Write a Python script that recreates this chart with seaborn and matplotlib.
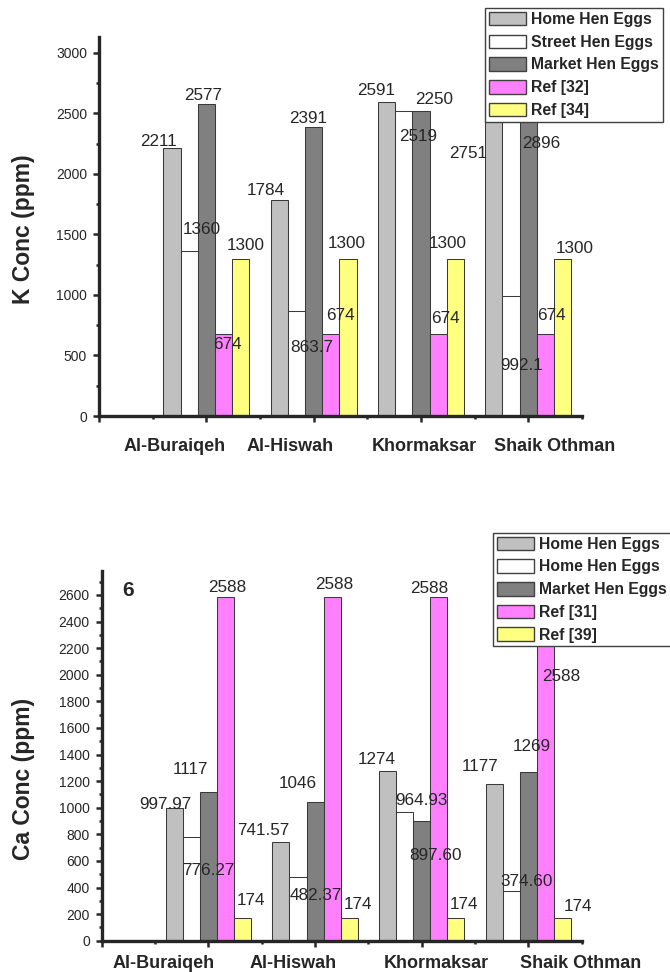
import matplotlib
matplotlib.use('Agg')
import matplotlib.pyplot as plt
import seaborn as sns
import pandas as pd
from matplotlib.patches import Patch
from matplotlib.ticker import MultipleLocator

sites = ['Al-Buraiqeh', 'Al-Hiswah', 'Khormaksar', 'Shaik Othman']
slots = [1, 2, 3, 4]

# K panel (bar heights as drawn, labels as printed)
k_home = [2211, 1784, 2591, 2751]
k_street = [1360, 863.7, 2519, 992.1]
k_market = [2577, 2391, 2519, 2896]
k_ref32 = [674, 674, 674, 674]
k_ref34 = [1300, 1300, 1300, 1300]
k_home_lbl = ['2211', '1784', '2591', '2751']
k_street_lbl = ['1360', '863.7', '2519', '992.1']
k_market_lbl = ['2577', '2391', '2250', '2896']
k_ref32_lbl = ['674', '674', '674', '674']
k_ref34_lbl = ['1300', '1300', '1300', '1300']

# Ca panel
ca_home = [997.97, 741.57, 1274, 1177]
ca_street = [776.27, 482.37, 964.93, 374.60]
ca_market = [1117, 1046, 897.60, 1269]
ca_ref31 = [2588, 2588, 2588, 2588]
ca_ref39 = [174, 174, 174, 174]
ca_home_lbl = ['997.97', '741.57', '1274', '1177']
ca_street_lbl = ['776.27', '482.37', '964.93', '374.60']
ca_market_lbl = ['1117', '1046', '897.60', '1269']
ca_ref31_lbl = ['2588', '2588', '2588', '2588']
ca_ref39_lbl = ['174', '174', '174', '174']

k_legend = ['Home Hen Eggs', 'Street Hen Eggs', 'Market Hen Eggs', 'Ref [32]', 'Ref [34]']
ca_legend = ['Home Hen Eggs', 'Home Hen Eggs', 'Market Hen Eggs', 'Ref [31]', 'Ref [39]']
series = ['home', 'street', 'market', 'ref_a', 'ref_b']
colors = ['#c0c0c0', '#ffffff', '#808080', '#ff80ff', '#ffff80']
palette = dict(zip(series, colors))

# where each value label sits relative to its bar (dx in slot units, dy in data units)
k_offsets = [
    [(-0.13, 57), (-0.13, 82), (-0.10, 95), (-0.24, -579)],
    [(0.12, 178), (0.14, -295), (0.13, -210), (0.10, -574)],
    [(-0.03, 73), (-0.05, 68), (0.12, 98), (0.12, -647)],
    [(0.04, -84), (0.09, 156), (0.07, 128), (0.06, 156)],
    [(0.05, 112), (-0.01, 126), (-0.07, 126), (0.11, 87)],
]
ca_offsets = [
    [(-0.08, 27), (-0.17, 86), (-0.10, 85), (-0.13, 132)],
    [(0.16, -252), (0.17, -140), (0.16, 91), (0.14, 73)],
    [(-0.17, 174), (-0.16, 136), (0.13, -260), (0.03, 192)],
    [(0.02, 70), (0.02, 90), (-0.09, 60), (0.15, -603)],
    [(0.08, 127), (0.08, 97), (0.08, 97), (0.15, 84)],
]

sns.set_style('ticks')
plt.rcParams['font.family'] = ['Liberation Sans', 'DejaVu Sans']


def long_frame(values):
    rows = []
    for name, vals in zip(series, values):
        for s, v in zip(slots, vals):
            rows.append({'slot': s, 'series': name, 'value': v})
    return pd.DataFrame(rows)


def draw_panel(ax, df, labels, offsets, ytop, ymaj, ymin, cat_x, cat_drop):
    sns.barplot(data=df, x='slot', y='value', hue='series', hue_order=series,
                palette=palette, native_scale=True, width=0.8, saturation=1,
                edgecolor='#3a3a3a', linewidth=0.75, errorbar=None,
                legend=False, ax=ax)
    ax.set_xlabel('')
    ax.set_ylabel('')
    ax.xaxis.set_major_locator(MultipleLocator(1))
    ax.xaxis.set_minor_locator(MultipleLocator(0.5))
    ax.set_xticklabels([])
    ax.yaxis.set_major_locator(MultipleLocator(ymaj))
    ax.yaxis.set_minor_locator(MultipleLocator(ymin))
    ax.set_xlim(0, 4.5)
    ax.set_ylim(0, ytop)
    ax.tick_params(which='major', direction='out', length=4.3, width=1.8,
                   labelsize=10, pad=4.3)
    ax.tick_params(which='minor', direction='out', length=2.2, width=1.8)
    sns.despine(ax=ax)
    for sp in ['left', 'bottom']:
        ax.spines[sp].set_linewidth(2.4)

    bars = sorted(ax.patches, key=lambda p: p.get_x())
    for k, bar in enumerate(bars):
        site, ser = divmod(k, 5)
        dx, dy = offsets[ser][site]
        cx = bar.get_x() + bar.get_width() / 2
        ax.text(cx + dx, bar.get_height() + dy, labels[ser][site],
                ha='center', va='center', fontsize=12.3, zorder=5)

    for x, name in zip(cat_x, sites):
        ax.annotate(name, xy=(x, 0), xycoords=('data', 'axes fraction'),
                    xytext=(0, -cat_drop), textcoords='offset points',
                    ha='center', va='baseline', fontsize=13,
                    fontweight='bold', annotation_clip=False)


fig = plt.figure(figsize=(6.7, 9.72), dpi=100)
ax1 = fig.add_axes([0.1478, 0.572, 0.7207, 0.3899])
ax2 = fig.add_axes([0.1518, 0.0322, 0.7164, 0.3803])

draw_panel(ax1, long_frame([k_home, k_street, k_market, k_ref32, k_ref34]),
           [k_home_lbl, k_street_lbl, k_market_lbl, k_ref32_lbl, k_ref34_lbl],
           k_offsets, 3130, 500, 250, [0.70, 1.78, 3.03, 4.25], 25.2)
draw_panel(ax2, long_frame([ca_home, ca_street, ca_market, ca_ref31, ca_ref39]),
           [ca_home_lbl, ca_street_lbl, ca_market_lbl, ca_ref31_lbl, ca_ref39_lbl],
           ca_offsets, 2780, 200, 100, [0.58, 1.79, 3.14, 4.49], 19.7)

ax2.text(0.246, 2632, '6', ha='center', va='center', fontsize=15,
         fontweight='bold')

fig.text(24 / 670, 1 - 229 / 972, 'K Conc (ppm)', rotation=90, ha='center',
         va='center', fontsize=16.5, fontweight='bold')
fig.text(24 / 670, 1 - 779 / 972, 'Ca Conc (ppm)', rotation=90, ha='center',
         va='center', fontsize=16.5, fontweight='bold')


def add_legend(labels, anchor):
    handles = [Patch(facecolor=c, edgecolor='#404040', linewidth=1.0)
               for c in colors]
    leg = fig.legend(handles, labels, loc='upper left', bbox_to_anchor=anchor,
                     bbox_transform=fig.transFigure, frameon=True,
                     fancybox=False, edgecolor='#404040', framealpha=1,
                     borderpad=0.25, borderaxespad=0, handlelength=2.4,
                     handleheight=0.95, handletextpad=0.32, labelspacing=0.48,
                     prop={'weight': 'bold', 'size': 11.3})
    leg.get_frame().set_linewidth(1.0)
    leg.set_zorder(10)
    return leg


add_legend(k_legend, (484.7 / 670, 1 - 8 / 972))
add_legend(ca_legend, (492.7 / 670, 1 - 532.7 / 972))

fig.savefig('out.png', dpi=100)
